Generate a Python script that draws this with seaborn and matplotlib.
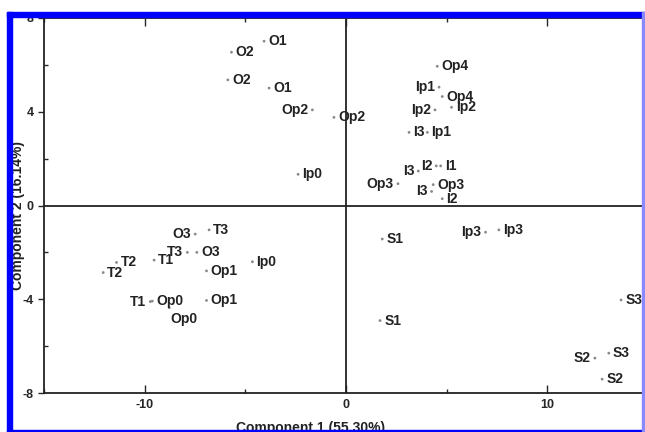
import matplotlib
matplotlib.use('Agg')
import matplotlib.pyplot as plt
import seaborn as sns
import pandas as pd
from matplotlib.patches import Rectangle
from matplotlib.ticker import MultipleLocator

# sample labels and PCA scores
labels = ['O1', 'O2', 'O2', 'O1', 'Op2', 'Ip0', 'Op2',
          'Op4', 'Ip1', 'Op4', 'Ip2', 'Ip2', 'I3', 'Ip1',
          'I3', 'I2', 'I1', 'Op3', 'I3', 'Op3', 'I2',
          'O3', 'T3', 'T3', 'O3', 'T2', 'T2', 'T1', 'Op1', 'Ip0',
          'T1', 'Op0', 'Op0', 'Op1',
          'S1', 'Ip3', 'Ip3', 'S3', 'S1', 'S2', 'S3', 'S2']
pc1 = [-4.07, -5.69, -5.87, -3.82, -1.67, -2.38, -0.60,
       4.53, 4.62, 4.78, 4.42, 5.24, 3.13, 4.04,
       3.59, 4.48, 4.70, 2.58, 4.25, 4.33, 4.78,
       -7.49, -6.80, -7.88, -7.41, -11.40, -12.06, -9.53, -6.93, -4.65,
       -9.72, -9.62, -8.78, -6.93,
       1.80, 6.93, 7.59, 13.66, 1.69, 12.36, 13.05, 12.72]
pc2 = [7.01, 6.54, 5.36, 5.01, 4.08, 1.33, 3.76,
       5.94, 5.05, 4.65, 4.08, 4.19, 3.12, 3.12,
       1.47, 1.69, 1.69, 0.93, 0.60, 0.89, 0.29,
       -1.22, -1.04, -2.00, -2.00, -2.43, -2.86, -2.33, -2.79, -2.40,
       -4.10, -4.08, -4.36, -4.05,
       -1.43, -1.14, -1.04, -4.03, -4.91, -6.51, -6.30, -7.41]
# which side of the dot the label sits on
side = ['r', 'r', 'r', 'r', 'l', 'r', 'r',
        'r', 'l', 'r', 'l', 'r', 'r', 'r',
        'l', 'l', 'r', 'l', 'l', 'r', 'r',
        'l', 'r', 'l', 'r', 'r', 'r', 'r', 'r', 'r',
        'l', 'r', 'b', 'r',
        'r', 'l', 'r', 'r', 'r', 'l', 'r', 'r']

df = pd.DataFrame({'label': labels, 'pc1': pc1, 'pc2': pc2, 'side': side})

sns.set_style('white')
plt.rcParams['font.family'] = ['Liberation Sans', 'DejaVu Sans']
plt.rcParams['font.weight'] = 'bold'
plt.rcParams['axes.unicode_minus'] = False

fig = plt.figure(figsize=(6.45, 4.32), dpi=100)
ax = fig.add_axes([44 / 645, 39 / 432, 598 / 645, 375 / 432])

sns.scatterplot(data=df, x='pc1', y='pc2', color='#888888', s=4,
                edgecolor='none', ax=ax, zorder=3)

for _, r in df.iterrows():
    if r['side'] == 'l':
        ax.annotate(r['label'], (r['pc1'], r['pc2']), xytext=(-3, 0),
                    textcoords='offset points', ha='right', va='center',
                    fontsize=10, fontweight='bold', color='#222222')
    elif r['side'] == 'b':
        ax.annotate(r['label'], (r['pc1'], r['pc2']), xytext=(1, -3),
                    textcoords='offset points', ha='left', va='top',
                    fontsize=10, fontweight='bold', color='#222222')
    else:
        ax.annotate(r['label'], (r['pc1'], r['pc2']), xytext=(3, 0),
                    textcoords='offset points', ha='left', va='center',
                    fontsize=10, fontweight='bold', color='#222222',
                    annotation_clip=False)

ax.axhline(0, color='#222222', lw=1.3, zorder=1)
ax.axvline(0, color='#222222', lw=1.3, zorder=1)

ax.set_xlim(-15, 14.7)
ax.set_ylim(-8, 8)
ax.xaxis.set_major_locator(MultipleLocator(10))
ax.xaxis.set_minor_locator(MultipleLocator(5))
ax.yaxis.set_major_locator(MultipleLocator(4))
ax.yaxis.set_minor_locator(MultipleLocator(2))
ax.tick_params(axis='x', which='both', direction='in', top=True, bottom=True,
               length=6, width=1, labelsize=9, pad=4)
ax.tick_params(axis='x', which='minor', length=3)
ax.tick_params(axis='y', which='major', direction='out', left=True,
               length=4, width=1, labelsize=9)
ax.tick_params(axis='y', which='minor', direction='in', left=True,
               length=3, width=1)
for lab in ax.get_xticklabels() + ax.get_yticklabels():
    lab.set_fontweight('bold')

for s in ['left', 'bottom', 'top']:
    ax.spines[s].set_color('#222222')
    ax.spines[s].set_linewidth(1.3)
ax.spines['right'].set_visible(False)
ax.set_xlabel('')
ax.set_ylabel('')

fig.text(311 / 645, 1 - 428 / 432, 'Component 1 (55.30%)', ha='center',
         va='center', fontsize=10, fontweight='bold', color='#222222')
fig.text(18 / 645, 0.5, 'Component 2 (16.14%)', ha='center', va='center',
         rotation=90, fontsize=10, fontweight='bold', color='#222222')

# blue frame around the figure
blue = '#0000ff'
fig.patches.append(Rectangle((7 / 645, 0), 5 / 645, 420 / 432, transform=fig.transFigure,
                             color=blue, zorder=10))
fig.patches.append(Rectangle((7 / 645, 415 / 432), 638 / 645, 5 / 432,
                             transform=fig.transFigure, color=blue, zorder=10))
fig.patches.append(Rectangle((7 / 645, 0), 638 / 645, 2.5 / 432,
                             transform=fig.transFigure, color=blue, zorder=10))
fig.patches.append(Rectangle((642 / 645, 0), 3 / 645, 420 / 432,
                             transform=fig.transFigure, color='#8888ff', zorder=10))

fig.savefig('out.png', dpi=100)
